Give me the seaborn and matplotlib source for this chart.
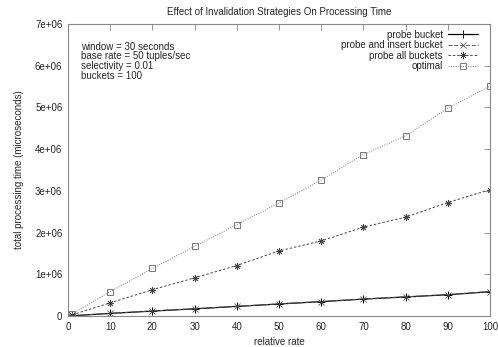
import matplotlib
matplotlib.use("Agg")
import matplotlib.pyplot as plt
import seaborn as sns
import pandas as pd

# ---- data ----
relative_rate = [1, 10, 20, 30, 40, 50, 60, 70, 80, 90, 100]
probe_bucket = [6e3, 6.2e4, 1.18e5, 1.72e5, 2.3e5, 2.88e5, 3.44e5, 4.05e5, 4.57e5, 5.1e5, 5.82e5]
probe_insert_bucket = [8e3, 6.5e4, 1.2e5, 1.75e5, 2.33e5, 2.9e5, 3.47e5, 4.08e5, 4.6e5, 5.13e5, 5.86e5]
probe_all_buckets = [3.0e4, 3.15e5, 6.3e5, 9.15e5, 1.21e6, 1.56e6, 1.80e6, 2.13e6, 2.37e6, 2.72e6, 3.03e6]
optimal = [5.5e4, 5.85e5, 1.14e6, 1.67e6, 2.19e6, 2.71e6, 3.26e6, 3.87e6, 4.32e6, 4.98e6, 5.51e6]
series_names = ["probe bucket", "probe and insert bucket", "probe all buckets", "optimal"]
x_ticks = [0, 10, 20, 30, 40, 50, 60, 70, 80, 90, 100]
y_ticks = [0, 1e6, 2e6, 3e6, 4e6, 5e6, 6e6, 7e6]
y_tick_labels = ["0", "1e+06", "2e+06", "3e+06", "4e+06", "5e+06", "6e+06", "7e+06"]
title = "Effect of Invalidation Strategies On Processing Time"
x_label = "relative rate"
y_label = "total processing time (microseconds)"
note_lines = ["window = 30 seconds", "base rate = 50 tuples/sec",
              "selectivity = 0.01", "buckets = 100"]

sns.set_style("white")
plt.rcParams["font.family"] = ["Liberation Sans", "DejaVu Sans"]

frames = []
for name, vals in zip(series_names, [probe_bucket, probe_insert_bucket, probe_all_buckets, optimal]):
    frames.append(pd.DataFrame({"rate": relative_rate, "time": vals, "series": name}))
df = pd.concat(frames, ignore_index=True)

fig = plt.figure(figsize=(4.98, 3.47), dpi=100)
ax = fig.add_axes([68 / 498, 1 - 316 / 347, (490 - 68) / 498, (316 - 24) / 347])

styles = {
    "probe bucket": dict(color="black", marker="+", ms=6, lw=0.9, dashes=None, mfc="black", mew=0.7),
    "probe and insert bucket": dict(color="#555555", marker="x", ms=4, lw=0.7, dashes=(4, 2), mfc="#555555", mew=0.6),
    "probe all buckets": dict(color="#444444", marker=(8, 2, 0), ms=5, lw=0.7, dashes=(2.5, 2), mfc="#444444", mew=0.6),
    "optimal": dict(color="#777777", marker="s", ms=4.5, lw=0.7, dashes=(1, 1.5), mfc="none", mew=0.7),
}

handles = []
for name in series_names:
    st = styles[name]
    sub = df[df["series"] == name]
    sns.lineplot(data=sub, x="rate", y="time", ax=ax, color=st["color"], marker=st["marker"],
                 markersize=st["ms"], linewidth=st["lw"], markerfacecolor=st["mfc"],
                 markeredgecolor=st["color"], markeredgewidth=st["mew"], label=name, legend=False)
    line = ax.lines[-1]
    if st["dashes"] is not None:
        line.set_dashes(st["dashes"])
    handles.append(line)

ax.set_xlim(0, 100)
ax.set_ylim(0, 7e6)
ax.set_xticks(x_ticks)
ax.set_xticklabels([str(t) for t in x_ticks])
ax.set_yticks(y_ticks)
ax.set_yticklabels(y_tick_labels)
ax.tick_params(axis="both", which="both", direction="in", length=4, width=0.6,
               color="#888888", labelsize=7, top=True, right=True, pad=4,
               labeltop=False, labelright=False)
for sp in ax.spines.values():
    sp.set_visible(True)
    sp.set_color("#888888")
    sp.set_linewidth(0.8)

ax.set_title(title, fontsize=7, pad=6.5)
ax.set_xlabel(x_label, fontsize=7, labelpad=4)
ax.set_ylabel(y_label, fontsize=7, labelpad=8)

ax.text(0.03, 0.94, "\n".join(note_lines), transform=ax.transAxes, fontsize=7,
        va="top", ha="left", linespacing=0.97)

leg = ax.legend(handles, series_names, loc="upper right", frameon=False, fontsize=7,
                markerfirst=False, handlelength=3.1, handletextpad=0.5, labelspacing=0.05,
                borderaxespad=0.2, bbox_to_anchor=(0.985, 1.0))

fig.savefig("out.png", dpi=100)
